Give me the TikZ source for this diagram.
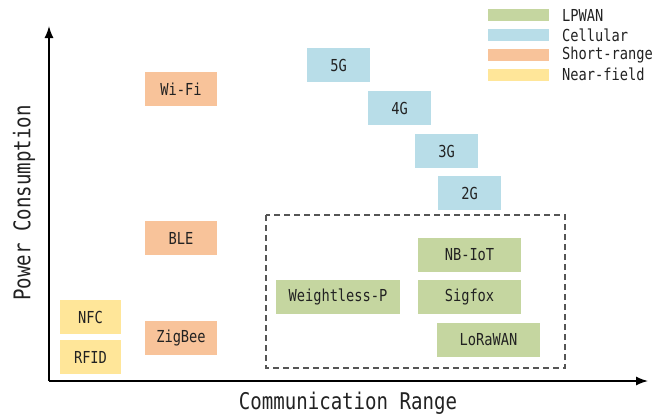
\documentclass[tikz,border=0pt]{standalone}
\usepackage{fontspec}
\newfontfamily\labfont{DejaVu Sans Mono}[FakeStretch=0.83]
\usetikzlibrary{arrows.meta}
\definecolor{lpwan}{HTML}{C5D6A0}
\definecolor{cell}{HTML}{B8DDE8}
\definecolor{short}{HTML}{F8C39A}
\definecolor{near}{HTML}{FFE699}
\definecolor{txt}{HTML}{222222}
\definecolor{dash}{HTML}{555555}
\begin{document}
\begin{tikzpicture}[x=1pt,y=-1pt,
  tech/.style={rectangle, inner sep=0pt, text=txt, font=\labfont\fontsize{16.5}{16.5}\selectfont},
  swatch/.style={rectangle, inner sep=0pt, minimum width=61pt, minimum height=12pt},
  legtext/.style={anchor=west, inner sep=0pt, text=txt, font=\labfont\fontsize{16.5}{16.5}\selectfont},
  axis/.style={line width=1.4pt, -{Latex[length=12pt,width=9pt]}},
  axlabel/.style={inner sep=0pt, text=txt, font=\labfont\fontsize{23}{23}\selectfont},
  group/.style={draw=dash, line width=1.4pt, dash pattern=on 6pt off 4pt}]
\useasboundingbox (0,0) rectangle (665,418);
% axes
\coordinate (o) at (49,381);
\coordinate (ytip) at (49,26);
\coordinate (xtip) at (648,381);
\draw[axis] (o) -- (ytip);
\draw[axis] (o) -- (xtip);
\node[axlabel] (xl) at (348,403) {Communication Range};
\node[axlabel, rotate=90] (yl) at (24,203) {Power Consumption};
% dashed LPWAN group
\draw[group] (266,215) rectangle (565,368);
% near-field
\node[tech, fill=near, minimum width=61pt, minimum height=34pt] (nfc) at (90.5,317) {NFC};
\node[tech, fill=near, minimum width=61pt, minimum height=34pt] (rfid) at (90.5,357) {RFID};
% short-range
\node[tech, fill=short, minimum width=72pt, minimum height=34pt] (wifi) at (181,89) {Wi-Fi};
\node[tech, fill=short, minimum width=72pt, minimum height=34pt] (ble) at (181,238) {BLE};
\node[tech, fill=short, minimum width=72pt, minimum height=34pt] (zigbee) at (181,338) {ZigBee};
% cellular
\node[tech, fill=cell, minimum width=63pt, minimum height=34pt] (g5) at (338.5,65) {5G};
\node[tech, fill=cell, minimum width=63pt, minimum height=34pt] (g4) at (399.5,108) {4G};
\node[tech, fill=cell, minimum width=63pt, minimum height=34pt] (g3) at (446.5,151) {3G};
\node[tech, fill=cell, minimum width=63pt, minimum height=34pt] (g2) at (469.5,193) {2G};
% LPWAN
\node[tech, fill=lpwan, minimum width=103pt, minimum height=34pt] (nbiot) at (469.5,255) {NB-IoT};
\node[tech, fill=lpwan, minimum width=103pt, minimum height=34pt] (sigfox) at (469.5,297) {Sigfox};
\node[tech, fill=lpwan, minimum width=124pt, minimum height=34pt] (wless) at (338,297) {Weightless-P};
\node[tech, fill=lpwan, minimum width=103pt, minimum height=34pt] (lora) at (488.5,340) {LoRaWAN};
% legend
\node[swatch, fill=lpwan] (s1) at (518.5,15) {};
\node[swatch, fill=cell] (s2) at (518.5,35) {};
\node[swatch, fill=short] (s3) at (518.5,55) {};
\node[swatch, fill=near] (s4) at (518.5,74.5) {};
\node[legtext] (l1) at (562,15) {LPWAN};
\node[legtext] (l2) at (562,35) {Cellular};
\node[legtext] (l3) at (562,55) {Short-range};
\node[legtext] (l4) at (562,74.5) {Near-field};
\end{tikzpicture}
\end{document}
